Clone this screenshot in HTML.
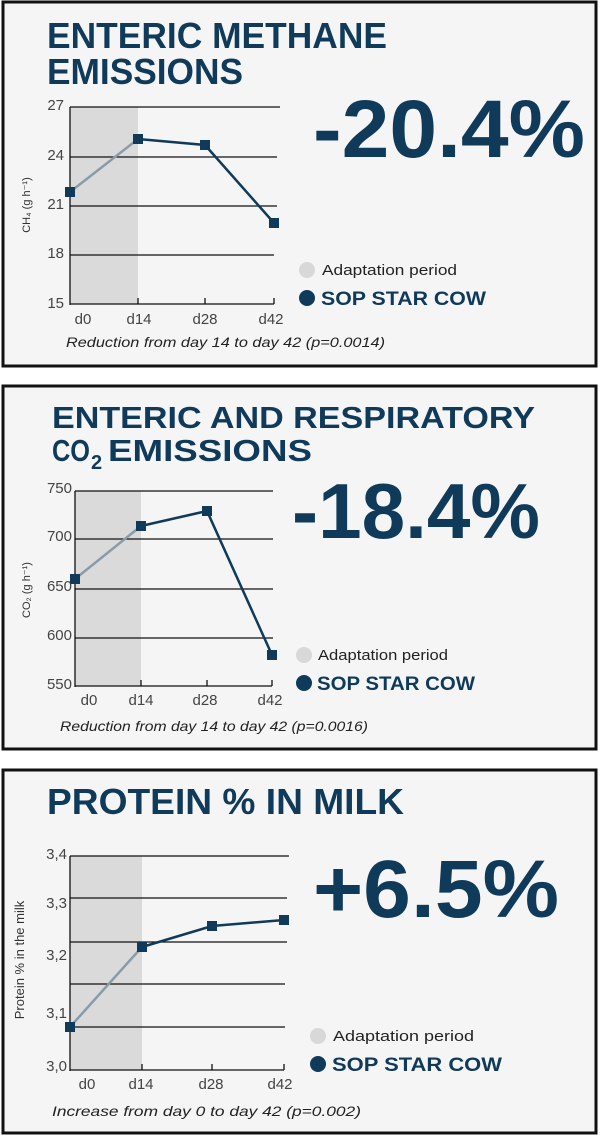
<!DOCTYPE html>
<html><head><meta charset="utf-8"><style>
html,body{margin:0;padding:0;background:#fff;width:600px;height:1135px;overflow:hidden}
svg{display:block}
text{font-family:"Liberation Sans",sans-serif}
.t{font-weight:bold;fill:#0f3a5a}
.ax{fill:#444;font-size:15px}
.cap{font-style:italic;font-size:14px;fill:#222}
</style></head><body>
<svg width="600" height="1135" viewBox="0 0 600 1135" xmlns="http://www.w3.org/2000/svg">
<!-- panel 1 -->
<rect x="3" y="2" width="593" height="364" fill="#f5f5f5" stroke="#111" stroke-width="3"/>
<text class="t" x="47" y="48" font-size="36" textLength="340" lengthAdjust="spacingAndGlyphs">ENTERIC METHANE</text>
<text class="t" x="47" y="84" font-size="36" textLength="196" lengthAdjust="spacingAndGlyphs">EMISSIONS</text>
<text class="t" x="313" y="157" font-size="82" textLength="272" lengthAdjust="spacingAndGlyphs">-20.4%</text>
<rect x="70" y="107" width="68" height="197" fill="#dadada"/>
<g stroke="#111" stroke-width="1.3">
<line x1="70" y1="107" x2="280" y2="107"/><line x1="70" y1="157" x2="277" y2="157"/>
<line x1="70" y1="206" x2="277" y2="206"/><line x1="70" y1="255" x2="274" y2="255"/>
<line x1="70" y1="107" x2="70" y2="305"/><line x1="70" y1="304" x2="274" y2="304"/>
<line x1="138" y1="304" x2="138" y2="298"/><line x1="205" y1="304" x2="205" y2="298"/><line x1="274" y1="304" x2="274" y2="298"/>
</g>
<g class="ax" text-anchor="end"><text x="64" y="110">27</text><text x="64" y="160">24</text><text x="64" y="209">21</text><text x="64" y="258">18</text><text x="64" y="308">15</text></g>
<g class="ax" text-anchor="middle"><text x="83" y="324">d0</text><text x="139" y="324">d14</text><text x="205" y="324">d28</text><text x="271" y="324">d42</text></g>
<text x="30" y="205" font-size="11" fill="#333" transform="rotate(-90 30 205)" text-anchor="middle">CH₄ (g h⁻¹)</text>
<polyline points="70,192 138,139" fill="none" stroke="#8a9ba8" stroke-width="2.5"/>
<polyline points="138,139 205,145 274,223" fill="none" stroke="#0f3a5a" stroke-width="2.5"/>
<g fill="#0f3a5a"><rect x="65" y="187" width="10" height="10"/><rect x="133" y="134" width="10" height="10"/><rect x="200" y="140" width="10" height="10"/><rect x="269" y="218" width="10" height="10"/></g>
<circle cx="307" cy="270" r="8" fill="#d8d8d8"/><text x="322" y="275" font-size="15" fill="#222" textLength="135" lengthAdjust="spacingAndGlyphs">Adaptation period</text>
<circle cx="307" cy="298" r="8" fill="#0f3a5a"/><text class="t" x="321" y="305" font-size="19" textLength="165" lengthAdjust="spacingAndGlyphs">SOP STAR COW</text>
<text class="cap" x="66" y="347" textLength="319" lengthAdjust="spacingAndGlyphs">Reduction from day 14 to day 42 (p=0.0014)</text>

<!-- panel 2 -->
<rect x="3" y="386" width="593" height="363" fill="#f5f5f5" stroke="#111" stroke-width="3"/>
<text class="t" x="52" y="428" font-size="31" textLength="483" lengthAdjust="spacingAndGlyphs">ENTERIC AND RESPIRATORY</text>
<text class="t" x="52" y="461" font-size="31" textLength="38" lengthAdjust="spacingAndGlyphs">CO</text>
<text class="t" x="91" y="469" font-size="20">2</text>
<text class="t" x="108" y="461" font-size="31" textLength="204" lengthAdjust="spacingAndGlyphs">EMISSIONS</text>
<text class="t" x="292" y="538" font-size="78" textLength="248" lengthAdjust="spacingAndGlyphs">-18.4%</text>
<rect x="75" y="491" width="66" height="195" fill="#dadada"/>
<g stroke="#111" stroke-width="1.3">
<line x1="75" y1="491" x2="273" y2="491"/><line x1="75" y1="539" x2="273" y2="539"/>
<line x1="75" y1="589" x2="273" y2="589"/><line x1="75" y1="638" x2="273" y2="638"/>
<line x1="75" y1="491" x2="75" y2="687"/><line x1="75" y1="686" x2="272" y2="686"/>
<line x1="141" y1="686" x2="141" y2="680"/><line x1="207" y1="686" x2="207" y2="680"/><line x1="272" y1="686" x2="272" y2="680"/>
</g>
<g class="ax" text-anchor="end"><text x="72" y="493">750</text><text x="72" y="541">700</text><text x="72" y="591">650</text><text x="72" y="640">600</text><text x="72" y="689">550</text></g>
<g class="ax" text-anchor="middle"><text x="89" y="705">d0</text><text x="141" y="705">d14</text><text x="205" y="705">d28</text><text x="270" y="705">d42</text></g>
<text x="30" y="590" font-size="11" fill="#333" transform="rotate(-90 30 590)" text-anchor="middle">CO₂ (g h⁻¹)</text>
<polyline points="75,579 141,526" fill="none" stroke="#8a9ba8" stroke-width="2.5"/>
<polyline points="141,526 207,511 272,655" fill="none" stroke="#0f3a5a" stroke-width="2.5"/>
<g fill="#0f3a5a"><rect x="70" y="574" width="10" height="10"/><rect x="136" y="521" width="10" height="10"/><rect x="202" y="506" width="10" height="10"/><rect x="267" y="650" width="10" height="10"/></g>
<circle cx="304" cy="655" r="8" fill="#d8d8d8"/><text x="318" y="660" font-size="15" fill="#222" textLength="130" lengthAdjust="spacingAndGlyphs">Adaptation period</text>
<circle cx="304" cy="683" r="8" fill="#0f3a5a"/><text class="t" x="317" y="690" font-size="19" textLength="158" lengthAdjust="spacingAndGlyphs">SOP STAR COW</text>
<text class="cap" x="60" y="731" textLength="308" lengthAdjust="spacingAndGlyphs">Reduction from day 14 to day 42 (p=0.0016)</text>

<!-- panel 3 -->
<rect x="3" y="770" width="593" height="363" fill="#f5f5f5" stroke="#111" stroke-width="3"/>
<text class="t" x="47" y="814" font-size="36" textLength="357" lengthAdjust="spacingAndGlyphs">PROTEIN % IN MILK</text>
<text class="t" x="313" y="917" font-size="82" textLength="246" lengthAdjust="spacingAndGlyphs">+6.5%</text>
<rect x="70" y="856" width="72" height="214" fill="#dadada"/>
<g stroke="#111" stroke-width="1.3">
<line x1="70" y1="856" x2="289" y2="856"/><line x1="70" y1="898" x2="287" y2="898"/>
<line x1="70" y1="942" x2="287" y2="942"/><line x1="70" y1="984" x2="285" y2="984"/>
<line x1="70" y1="1027" x2="285" y2="1027"/>
<line x1="70" y1="856" x2="70" y2="1071"/><line x1="70" y1="1070" x2="284" y2="1070"/>
<line x1="142" y1="1070" x2="142" y2="1064"/><line x1="212" y1="1070" x2="212" y2="1064"/><line x1="284" y1="1070" x2="284" y2="1064"/>
</g>
<g class="ax" text-anchor="end"><text x="67" y="859">3,4</text><text x="67" y="908">3,3</text><text x="67" y="960">3,2</text><text x="67" y="1018">3,1</text><text x="67" y="1071">3,0</text></g>
<g class="ax" text-anchor="middle"><text x="87" y="1089">d0</text><text x="141" y="1089">d14</text><text x="211" y="1089">d28</text><text x="280" y="1089">d42</text></g>
<text x="24" y="960" font-size="13" fill="#333" transform="rotate(-90 24 960)" text-anchor="middle">Protein % in the milk</text>
<polyline points="70,1027 142,947" fill="none" stroke="#8a9ba8" stroke-width="2.5"/>
<polyline points="142,947 212,926 284,920" fill="none" stroke="#0f3a5a" stroke-width="2.5"/>
<g fill="#0f3a5a"><rect x="65" y="1022" width="10" height="10"/><rect x="137" y="942" width="10" height="10"/><rect x="207" y="921" width="10" height="10"/><rect x="279" y="915" width="10" height="10"/></g>
<circle cx="318" cy="1036" r="8" fill="#d8d8d8"/><text x="333" y="1041" font-size="15" fill="#222" textLength="141" lengthAdjust="spacingAndGlyphs">Adaptation period</text>
<circle cx="318" cy="1064" r="8" fill="#0f3a5a"/><text class="t" x="332" y="1071" font-size="19" textLength="170" lengthAdjust="spacingAndGlyphs">SOP STAR COW</text>
<text class="cap" x="52" y="1116" textLength="309" lengthAdjust="spacingAndGlyphs">Increase from day 0 to day 42 (p=0.002)</text>
</svg>
</body></html>
